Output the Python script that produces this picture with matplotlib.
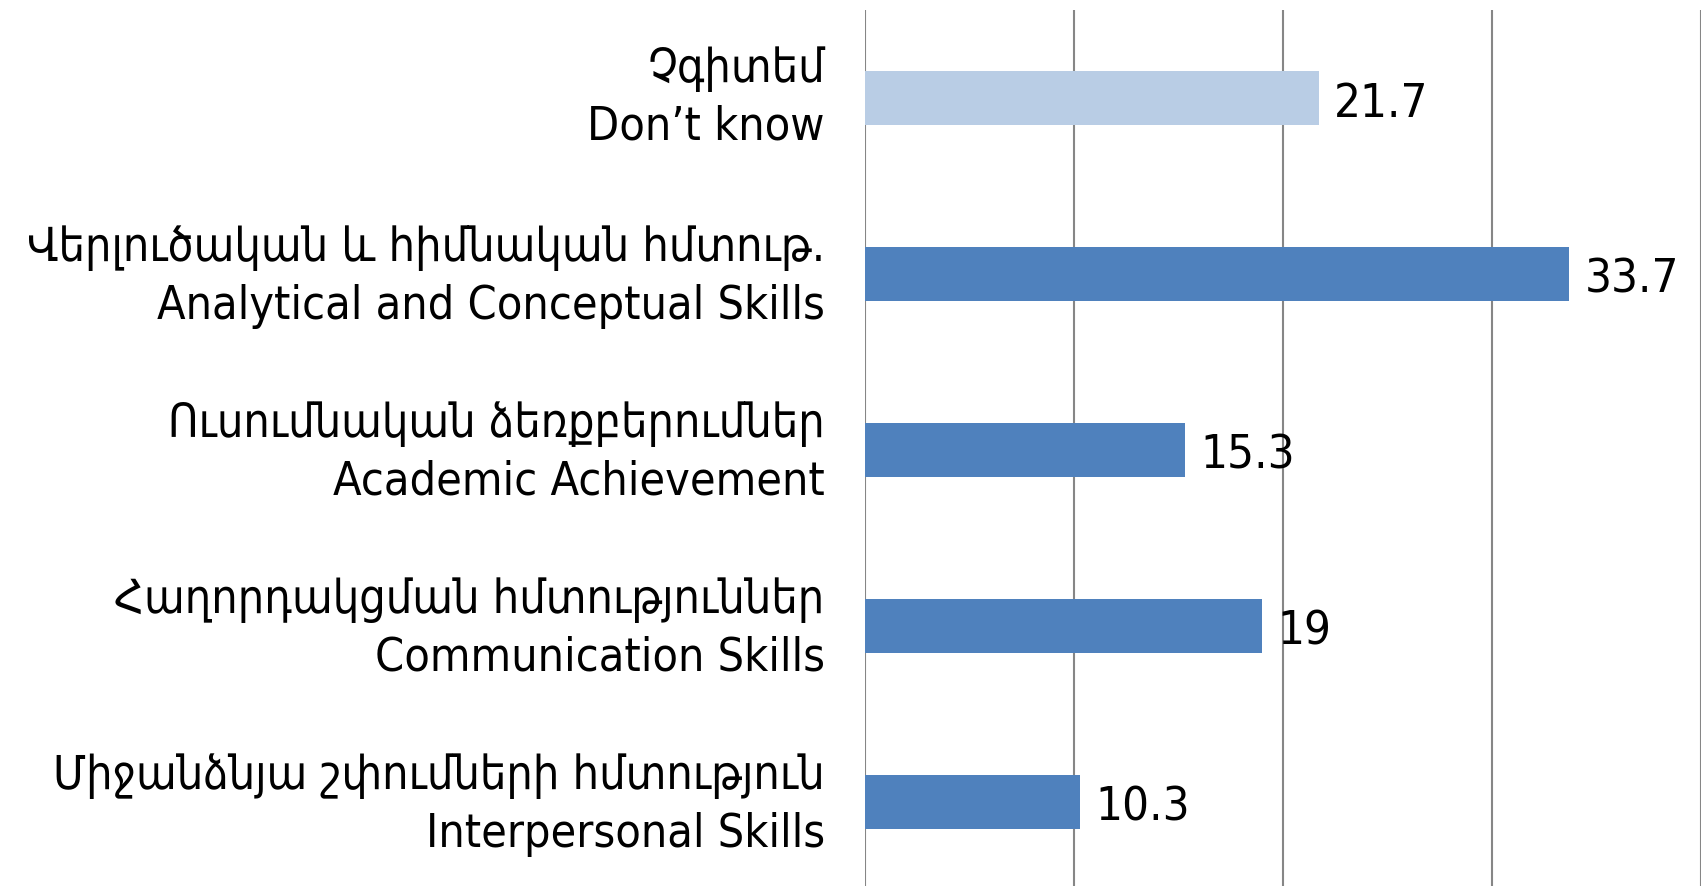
import matplotlib
matplotlib.use("Agg")
import matplotlib.pyplot as plt
import matplotlib.transforms as mtransforms

categories = [
    "Չգիտեմ\nDon’t know",
    "Վերլուծական և հիմնական հմտութ.\nAnalytical and Conceptual Skills",
    "Ուսումնական ձեռքբերումներ\nAcademic Achievement",
    "Հաղորդակցման հմտություններ\nCommunication Skills",
    "Միջանձնյա շփումների հմտություն\nInterpersonal Skills",
]
values = [21.7, 33.7, 15.3, 19, 10.3]
value_labels = ["21.7", "33.7", "15.3", "19", "10.3"]
colors = ["#B9CDE5", "#4F81BD", "#4F81BD", "#4F81BD", "#4F81BD"]

W, H = 1704, 886
fig = plt.figure(figsize=(W / 100, H / 100), dpi=100)
left = 865 / W
right = 1701 / W
top = 1 - 10 / H
bottom = 1 - 890 / H
ax = fig.add_axes([left, bottom, right - left, top - bottom])

font = dict(family=["DejaVu Sans"], stretch="condensed")

y = list(range(len(categories)))
ax.barh(y, values, height=0.31, color=colors, zorder=3)
ax.set_xlim(0, 40)
ax.set_ylim(len(categories) - 0.5, -0.5)
ax.set_xticks([0, 10, 20, 30, 40])
ax.set_xticklabels([])
ax.grid(axis="x", color="#868686", linewidth=1.5, zorder=0)
ax.set_axisbelow(True)
for s in ax.spines.values():
    s.set_visible(False)
ax.tick_params(axis="both", length=0)
ax.set_yticks(y)
ax.set_yticklabels(categories, fontsize=33.5, linespacing=1.36,
                   ha="right", **font)
ax.tick_params(axis="y", pad=29)
for i, lab in enumerate(ax.get_yticklabels()):
    dy = 11 if i == 0 else 8
    shift = mtransforms.ScaledTranslation(0, dy / 100, fig.dpi_scale_trans)
    lab.set_transform(lab.get_transform() + shift)

for yi, v, lab in zip(y, values, value_labels):
    ax.annotate(lab, (v, yi), xytext=(11, -4.5), textcoords="offset points",
                va="center", ha="left", fontsize=34, zorder=5, **font)

fig.savefig("out.png", dpi=100)
